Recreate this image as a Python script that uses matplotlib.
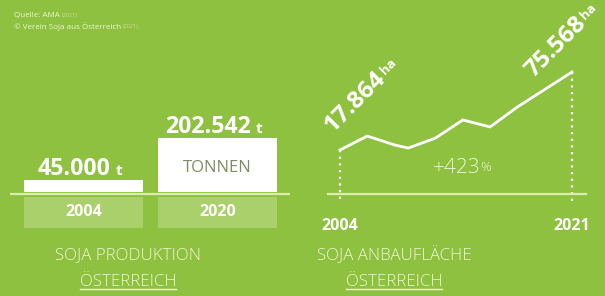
import matplotlib
matplotlib.use("Agg")
import math
import matplotlib.pyplot as plt
from matplotlib.lines import Line2D

# ---------------- data ----------------
prod_years = ["2004", "2020"]
production_t = [45000, 202542]
prod_labels = ["45.000", "202.542"]

area_years = [2004, 2006, 2008, 2009, 2011, 2013, 2015, 2017, 2021]
area_ha = [17864, 28200, 21600, 19300, 26700, 40100, 34900, 49700, 75568]
area_first_label = "17.864"
area_last_label = "75.568"
growth_label = "+423"

# ---------------- style ----------------
W, H, DPI = 605, 296, 100
BG = "#8ec13f"
BOX = "#a9d06b"
PALE = "#eef5d6"
LINEC = "#dcebb2"
FONT = "Open Sans"

plt.rcParams["font.family"] = [FONT, "DejaVu Sans"]

fig = plt.figure(figsize=(W / DPI, H / DPI), dpi=DPI, facecolor=BG)


def fig_rect(x0, y0, x1, y1):
    """pixel box (top-left origin) -> figure fraction rect"""
    return [x0 / W, 1 - y1 / H, (x1 - x0) / W, (y1 - y0) / H]


PT = 72 / DPI  # points per pixel

# ---------------- left: production bars ----------------
ax1 = fig.add_axes(fig_rect(10, 100, 290, 230))
ax1.set_facecolor("none")
t_per_px = 202542 / 54.0
base_px = 192
ax1.set_ylim(-(230 - base_px) * t_per_px, (base_px - 100) * t_per_px)
px_per_unit = 134.0
ax1.set_xlim(-(83.5 - 10) / px_per_unit, 1 + (290 - 217.5) / px_per_unit)
for s in ax1.spines.values():
    s.set_visible(False)
ax1.set_xticks([])
ax1.set_yticks([])

xs = range(len(prod_years))
bw = 119 / px_per_unit
ax1.bar(xs, production_t, width=bw, color="white", zorder=2)
ax1.axhline(-2 * t_per_px, color=LINEC, lw=1.6, zorder=1)
ax1.bar(xs, [-31 * t_per_px] * len(prod_years), bottom=-5 * t_per_px,
        width=bw, color=BOX, zorder=1)
for i, yr in enumerate(prod_years):
    ax1.text(i, -20.5 * t_per_px, yr, ha="center", va="center",
             color="white", fontsize=11.5, fontweight="bold")

num_texts = []
for i, (v, lab) in enumerate(zip(production_t, prod_labels)):
    tn = ax1.annotate(lab, xy=(i, v), xytext=(0, 5 * PT), textcoords="offset points",
                      ha="center", va="baseline", color="white",
                      fontsize=16.7, fontweight="bold")
    tu = ax1.annotate("t", xy=(i, v), xytext=(0, 5 * PT), textcoords="offset points",
                      ha="left", va="baseline", color="white",
                      fontsize=11, fontweight="bold")
    num_texts.append((i, v, tn, tu))

ax1.text(1, production_t[1] / 2 - 3.5 * t_per_px, "TONNEN", ha="center", va="center",
         color="#7b8f62", fontsize=12)

# ---------------- right: area line ----------------
px_per_yr = (572 - 340) / 17.0
ha_per_px = (75568 - 17864) / (150 - 72)
ax2 = fig.add_axes(fig_rect(328, 0, 586, 194))
ax2.set_facecolor("none")
ax2.set_xlim(2004 - (340 - 328) / px_per_yr, 2021 + (586 - 572) / px_per_yr)
ax2.set_ylim(17864 - (194 - 150) * ha_per_px, 17864 + 150 * ha_per_px)
for k in ("top", "right", "left"):
    ax2.spines[k].set_visible(False)
ax2.spines["bottom"].set_color(LINEC)
ax2.spines["bottom"].set_linewidth(1.6)
ax2.set_yticks([])
ax2.set_xticks([area_years[0], area_years[-1]])
ax2.tick_params(axis="x", length=0, pad=17, labelcolor="white", labelsize=11.5)
for lbl in ax2.get_xticklabels():
    lbl.set_fontweight("bold")

ax2.plot(area_years, area_ha, color="white", lw=2, solid_joinstyle="round",
         zorder=3, clip_on=False)
ybot = ax2.get_ylim()[0] - 9 * ha_per_px
for yr, v in [(area_years[0], area_ha[0]), (area_years[-1], area_ha[-1])]:
    ax2.plot([yr, yr], [v, ybot], color="white", lw=1.6, ls=(0, (1, 2)),
             clip_on=False, zorder=2)

ANG = 45
rot_specs = [(area_first_label, area_years[0], area_ha[0], (-7, 17), 17.5),
             (area_last_label, area_years[-1], area_ha[-1], (-39, -6), 17.5)]
rot_texts = []
for lab, xv, yv, (dx, dy), fs in rot_specs:
    rt = ax2.annotate(lab, xy=(xv, yv), xytext=(dx * PT, dy * PT),
                      textcoords="offset points", rotation=ANG,
                      rotation_mode="anchor", ha="left", va="baseline",
                      color="white", fontsize=fs, fontweight="bold",
                      annotation_clip=False)
    rot_texts.append((rt, xv, yv, (dx, dy), fs))

g1 = ax2.text(0.5, 0.134, growth_label, transform=ax2.transAxes, ha="center",
              va="center", color=PALE, fontsize=15, fontweight="light")

# ---------------- titles ----------------
titles = [(128, "SOJA PRODUKTION"), (394, "SOJA ANBAUFLÄCHE")]
unders = []
for x, t in titles:
    fig.text(x / W, 1 - 255 / H, t, ha="center", va="center", color=PALE,
             fontsize=12.2, fontweight="light")
    u = fig.text(x / W, 1 - 282 / H, "ÖSTERREICH", ha="center", va="center",
                 color=PALE, fontsize=12.2, fontweight="light")
    unders.append(u)

# source
s1 = fig.text(14 / W, 1 - 15.5 / H, "Quelle: AMA", ha="left", va="center",
              color=PALE, fontsize=5.8)
s2 = fig.text(14 / W, 1 - 26.5 / H, "© Verein Soja aus Österreich", ha="left",
              va="center", color=PALE, fontsize=5.8)

# ---------------- layout pass using renderer ----------------
fig.canvas.draw()
r = fig.canvas.get_renderer()

for i, v, tn, tu in num_texts:
    wn = tn.get_window_extent(r).width
    wu = tu.get_window_extent(r).width
    gap = 5
    total = wn + gap + wu
    start = -4 - total / 2
    tn.set_ha("left")
    tn.xyann = (start * PT, 5 * PT)
    tu.xyann = ((start + wn + gap) * PT, 5 * PT)

c = math.cos(math.radians(ANG))
s_ = math.sin(math.radians(ANG))
for rt, xv, yv, (dx, dy), fs in rot_texts:
    tmp = ax2.text(0, 0, rt.get_text(), fontsize=fs, fontweight="bold")
    L = tmp.get_window_extent(r).width
    tmp.remove()
    off = L + 2
    up = 4
    ax2.annotate("ha", xy=(xv, yv),
                 xytext=((dx + off * c - up * s_) * PT, (dy + off * s_ + up * c) * PT),
                 textcoords="offset points", rotation=ANG, rotation_mode="anchor",
                 ha="left", va="baseline", color="white", fontsize=9.5,
                 fontweight="bold", annotation_clip=False)

bbg = g1.get_window_extent(r)
fig.text((bbg.x1 - 1) / W, (bbg.y0 + 4) / H, "%", ha="left", va="bottom",
         color=PALE, fontsize=9.5, fontweight="light")

for s in (s1, s2):
    bb = s.get_window_extent(r)
    fig.text((bb.x1 + 2) / W, (bb.y0 + bb.y1) / 2 / H, "(2021)", ha="left",
             va="center", color=PALE, alpha=0.6, fontsize=4)

for u in unders:
    bb = u.get_window_extent(r)
    yl = (bb.y0 + 1.5) / H
    fig.add_artist(Line2D([bb.x0 / W, bb.x1 / W], [yl, yl], color=PALE, lw=1.0,
                          transform=fig.transFigure))

fig.savefig("out.png", dpi=DPI, facecolor=BG)
